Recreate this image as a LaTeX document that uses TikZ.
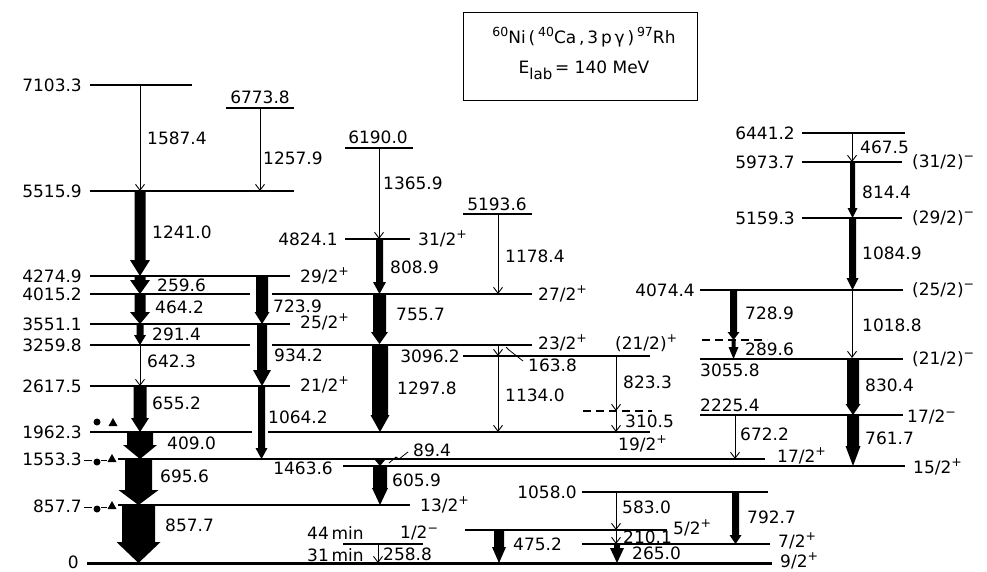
\documentclass[tikz,border=0pt]{standalone}
\usepackage{fontspec}
\setmainfont{DejaVu Sans}
\usetikzlibrary{arrows.meta}
\newcommand\up[1]{\raisebox{6.5pt}{\fontsize{12.5}{12.5}\selectfont #1}}
\newcommand\gthick[6]{\fill ({#1-#4},#2) -- ({#1+#4},#2) -- ({#1+#4},{#3-#6}) -- ({#1+#5},{#3-#6}) -- (#1,#3) -- ({#1-#5},{#3-#6}) -- ({#1-#4},{#3-#6}) -- cycle;}
\begin{document}
\begin{tikzpicture}[x=1pt,y=-1pt,
  lvl/.style={line width=1.1pt},
  dlvl/.style={line width=1.1pt,dash pattern=on 8pt off 5pt},
  gam/.style={line width=0.9pt,-{Straight Barb[length=6pt,width=9pt]}},
  lab/.style={font=\fontsize{17}{20}\selectfont,inner sep=0pt,anchor=west},
  elab/.style={lab,anchor=east},
  clab/.style={lab,anchor=center}]
\fill[white] (0,0) rectangle (987,571);
\useasboundingbox (0,0) rectangle (987,571);
% title box
\draw[line width=1pt] (463,12) rectangle (697,100);
\node[clab] (title1) at (584,37) {\up{60}Ni\,(\,\up{40}Ca\,,\,3\,p\,γ\,)\,\up{97}Rh};
\node[clab] (title2) at (584,70) {E\raisebox{-6pt}{\fontsize{15}{15}\selectfont lab}\,= 140 MeV};
% level lines
\draw[lvl] (90,85) -- (192,85);
\draw[lvl] (226,108) -- (294,108);
\draw[lvl] (90,191) -- (294,191);
\draw[lvl] (345,148) -- (413,148);
\draw[lvl] (345,239) -- (410,239);
\draw[lvl] (463,214) -- (532,214);
\draw[lvl] (90,276) -- (290,276);
\draw[lvl] (90,294) -- (250,294); \draw[lvl] (272,294) -- (532,294);
\draw[lvl] (90,324) -- (290,324);
\draw[lvl] (90,345) -- (250,345); \draw[lvl] (272,345) -- (532,345);
\draw[lvl] (463,356) -- (650,356);
\draw[dlvl] (583,411) -- (652,411);
\draw[lvl] (90,386) -- (290,386);
\draw[lvl] (90,432) -- (252,432); \draw[lvl] (268,432) -- (650,432);
\draw[lvl] (118,459) -- (765,459);
\draw[lvl] (343,466) -- (905,466);
\draw[lvl] (118,505) -- (410,505);
\draw[lvl] (582,492) -- (768,492);
\draw[lvl] (465,530) -- (667,530);
\draw[line width=2pt] (343,544) -- (423,544);
\draw[lvl] (582,544) -- (770,544);
\draw[line width=3pt] (87,563) -- (772,563);
\draw[lvl] (802,133) -- (905,133);
\draw[lvl] (802,162) -- (902,162);
\draw[lvl] (802,218) -- (902,218);
\draw[lvl] (700,290) -- (903,290);
\draw[dlvl] (702,340) -- (767,340);
\draw[lvl] (700,359) -- (903,359);
\draw[lvl] (700,415) -- (903,415);
% markers
\fill (97,422) circle (3.5); \fill (108.5,426) -- (117.5,426) -- (113,418) -- cycle;
\draw[line width=0.8pt] (84,460) -- (92,460); \draw[line width=0.8pt] (101,460) -- (107,460);
\fill (97,462) circle (3.5); \fill (107.5,462) -- (116.5,462) -- (112,454) -- cycle;
\draw[line width=0.8pt] (84,507) -- (92,507); \draw[line width=0.8pt] (101,507) -- (107,507);
\fill (97,509) circle (3.5); \fill (107.5,509) -- (116.5,509) -- (112,501) -- cycle;
% level energy labels
\node[elab] (e7103) at (82,85) {7103.3};
\node[elab] (e5515) at (82,191) {5515.9};
\node[elab] (e4274) at (82,276) {4274.9};
\node[elab] (e4015) at (82,294) {4015.2};
\node[elab] (e3551) at (82,324) {3551.1};
\node[elab] (e3259) at (82,345) {3259.8};
\node[elab] (e2617) at (82,386) {2617.5};
\node[elab] (e1962) at (82,432) {1962.3};
\node[elab] (e1553) at (82,459) {1553.3};
\node[elab] (e857) at (82,506) {857.7};
\node[lab,anchor=base east] (e0) at (79,568) {0};
\node[clab] (e6773) at (260,97) {6773.8};
\node[clab] (e6190) at (378,137) {6190.0};
\node[clab] (e5193) at (497,204) {5193.6};
\node[elab] (e4824) at (338,239) {4824.1};
\node[elab] (e3096) at (460,356) {3096.2};
\node[elab] (e1463) at (333,468) {1463.6};
\node[elab] (e1058) at (577,492) {1058.0};
\node[elab] (e6441) at (795,133) {6441.2};
\node[elab] (e5973) at (795,162) {5973.7};
\node[elab] (e5159) at (795,218) {5159.3};
\node[elab] (e4074) at (695,290) {4074.4};
\node[lab] (e3055) at (700,370) {3055.8};
\node[lab] (e2225) at (700,405) {2225.4};
\node[lab] (t44) at (307,533) {44\,min};
\node[lab] (t31) at (307,555) {31\,min};
% spin labels
\node[lab] (s29) at (300,276) {29/2\up{+}};
\node[lab] (s25) at (300,322) {25/2\up{+}};
\node[lab] (s21) at (300,385) {21/2\up{+}};
\node[lab] (s31) at (418,239) {31/2\up{+}};
\node[lab] (s27) at (538,294) {27/2\up{+}};
\node[lab] (s23) at (538,343) {23/2\up{+}};
\node[lab] (s21p) at (615,343) {(21/2)\up{+}};
\node[lab] (s19) at (618,444) {19/2\up{+}};
\node[lab] (s17) at (777,456) {17/2\up{+}};
\node[lab] (s15) at (913,467) {15/2\up{+}};
\node[lab] (s13) at (420,505) {13/2\up{+}};
\node[lab] (s1) at (400,533) {1/2\up{−}};
\node[lab] (s5) at (673,528) {5/2\up{+}};
\node[lab] (s7) at (778,541) {7/2\up{+}};
\node[lab,anchor=base west] (s9) at (780,567) {9/2\up{+}};
\node[lab] (s31m) at (912,162) {(31/2)\up{−}};
\node[lab] (s29m) at (912,218) {(29/2)\up{−}};
\node[lab] (s25m) at (912,290) {(25/2)\up{−}};
\node[lab] (s21m) at (912,359) {(21/2)\up{−}};
\node[lab] (s17m) at (907,417) {17/2\up{−}};
% thin gamma arrows
\draw[gam] (140,85) -- (140,191);
\draw[gam] (260,108) -- (260,191);
\draw[gam] (379,148) -- (379,239);
\draw[gam] (498,214) -- (498,294);
\draw[gam] (498,345) -- (498,356);
\draw[gam] (498,356) -- (498,432);
\draw[gam] (616,356) -- (616,411);
\draw[gam] (616,411) -- (616,432);
\draw[gam] (140,345) -- (140,386);
\draw[gam] (378,544) -- (378,563);
\draw[gam] (616,492) -- (616,530);
\draw[gam] (616,530) -- (616,544);
\draw[gam] (735,415) -- (735,459);
\draw[gam] (852,290) -- (852,358);
\draw[gam] (852,133) -- (852,162);
% thick gamma arrows: x, ytop, ybottom, half shaft, half head, head length
\gthick{140}{191}{276}{5.5}{10}{16}
\gthick{140}{276}{294}{5.5}{10}{14}
\gthick{140}{294}{324}{5.5}{10}{12}
\gthick{140}{324}{345}{3.5}{6}{10}
\gthick{140}{386}{432}{6.5}{9}{14}
\gthick{140}{432}{459}{13}{17}{14}
\gthick{138.5}{459}{505}{13.5}{20}{15}
\gthick{138.5}{505}{563}{16.5}{22}{21}
\gthick{262}{276}{324}{6}{7.5}{12}
\gthick{262}{324}{386}{5}{9}{16}
\gthick{261.5}{386}{459}{3.5}{6}{11}
\gthick{379.5}{239}{294}{3.5}{6.5}{12}
\gthick{379.5}{294}{344}{6.5}{8.5}{12}
\gthick{380}{344}{432}{8}{9.5}{17}
\gthick{380}{459}{466}{1.5}{5}{6}
\gthick{380}{466}{505}{7}{8}{17}
\gthick{499}{530}{563}{5}{7}{16}
\gthick{617}{544}{563}{3}{7}{15}
\gthick{735.5}{492}{544}{3.5}{6}{9}
\gthick{733.5}{290}{340}{3.5}{6}{8}
\gthick{733.5}{340}{359}{2}{5}{12}
\gthick{852.5}{218}{290}{3.5}{6}{12}
\gthick{852.5}{162}{218}{2.5}{5}{10}
\gthick{853}{359}{415}{6}{7.5}{11}
\gthick{853}{415}{466}{6}{7.5}{20}
% leaders
\draw[line width=0.8pt] (506,347) -- (509,350) -- (523,361);
\draw[line width=0.8pt] (389,463) -- (396,457) -- (399,459) -- (408,452);
% gamma energy labels
\node[lab] (g1587) at (147,138) {1587.4};
\node[lab] (g1257) at (263,158) {1257.9};
\node[lab] (g1241) at (152,232) {1241.0};
\node[lab] (g259) at (157,285) {259.6};
\node[lab] (g464) at (155,307) {464.2};
\node[lab] (g291) at (152,334) {291.4};
\node[lab] (g642) at (147,361) {642.3};
\node[lab] (g655) at (152,403) {655.2};
\node[lab] (g409) at (167,443) {409.0};
\node[lab] (g695) at (160,476) {695.6};
\node[lab] (g857) at (165,525) {857.7};
\node[lab] (g723) at (273,306) {723.9};
\node[lab] (g934) at (274,355) {934.2};
\node[lab] (g1064) at (268,417) {1064.2};
\node[lab] (g1365) at (383,183) {1365.9};
\node[lab] (g808) at (390,267) {808.9};
\node[lab] (g755) at (396,314) {755.7};
\node[lab] (g1297) at (397,388) {1297.8};
\node[lab] (g1178) at (505,256) {1178.4};
\node[lab] (g163) at (528,365) {163.8};
\node[lab] (g1134) at (505,395) {1134.0};
\node[lab] (g823) at (623,382) {823.3};
\node[lab] (g310) at (625,421) {310.5};
\node[lab] (g89) at (413,450) {89.4};
\node[lab] (g605) at (392,480) {605.9};
\node[lab] (g258) at (383,554) {258.8};
\node[lab] (g475) at (513,544) {475.2};
\node[lab] (g583) at (622,507) {583.0};
\node[lab] (g210) at (623,537) {210.1};
\node[lab] (g265) at (632,553) {265.0};
\node[lab] (g792) at (747,517) {792.7};
\node[lab] (g672) at (740,434) {672.2};
\node[lab] (g761) at (865,438) {761.7};
\node[lab] (g830) at (865,385) {830.4};
\node[lab] (g1018) at (862,325) {1018.8};
\node[lab] (g728) at (745,313) {728.9};
\node[lab] (g289) at (745,349) {289.6};
\node[lab] (g1084) at (862,253) {1084.9};
\node[lab] (g814) at (862,192) {814.4};
\node[lab] (g467) at (860,147) {467.5};
\end{tikzpicture}
\end{document}
